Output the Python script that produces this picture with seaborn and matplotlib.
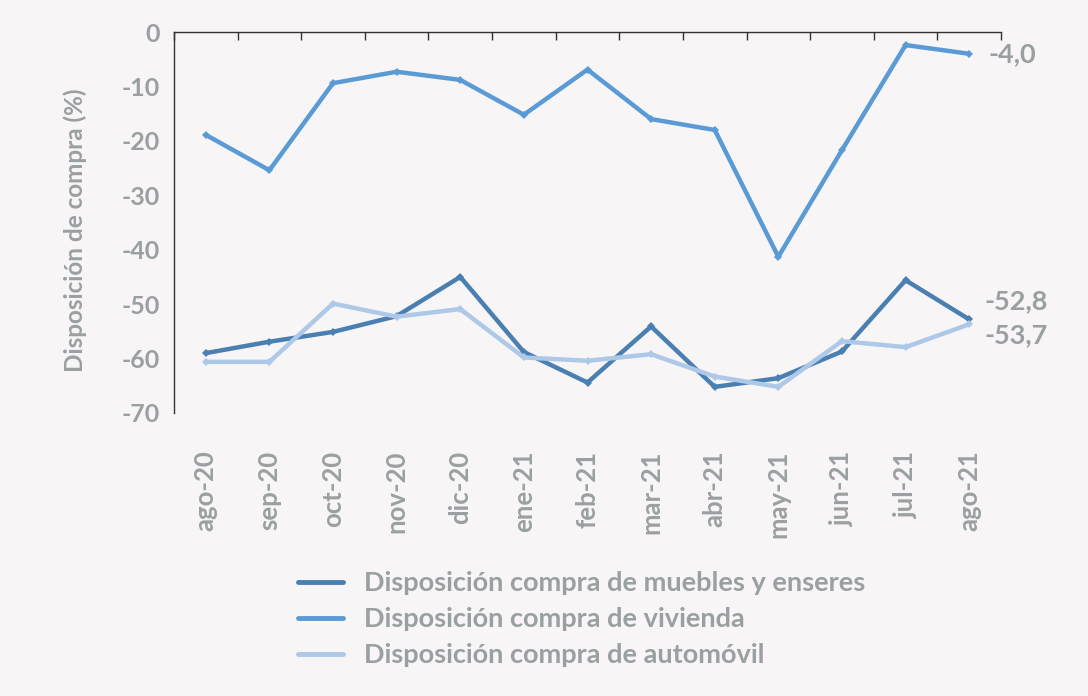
import matplotlib
matplotlib.use("Agg")
import matplotlib.pyplot as plt
import seaborn as sns
import pandas as pd
import numpy as np

months = ["ago-20", "sep-20", "oct-20", "nov-20", "dic-20", "ene-21", "feb-21",
          "mar-21", "abr-21", "may-21", "jun-21", "jul-21", "ago-21"]
muebles = [-59.0, -56.9, -55.1, -52.2, -45.0, -58.8, -64.4, -54.1, -65.2, -63.6, -58.7, -45.6, -52.8]
vivienda = [-18.9, -25.4, -9.4, -7.3, -8.8, -15.2, -6.9, -16.0, -18.0, -41.3, -21.7, -2.4, -4.0]
automovil = [-60.6, -60.6, -49.9, -52.3, -50.9, -59.8, -60.4, -59.2, -63.3, -65.2, -56.8, -57.9, -53.7]
series_names = ["Disposición compra de muebles y enseres",
                "Disposición compra de vivienda",
                "Disposición compra de automóvil"]
colors = ["#4a7fb1", "#5b9bd5", "#aec8e8"]
y_ticks = [0, -10, -20, -30, -40, -50, -60, -70]

df = pd.DataFrame({
    "mes": months * 3,
    "idx": list(range(len(months))) * 3,
    "valor": muebles + vivienda + automovil,
    "serie": [series_names[0]] * len(months) + [series_names[1]] * len(months) + [series_names[2]] * len(months),
})

bg = "#f7f5f6"
gray = "#9a9fa1"
sns.set_theme(style="white")
plt.rcParams["font.family"] = ["Lato", "DejaVu Sans"]
plt.rcParams["font.weight"] = "bold"

fig = plt.figure(figsize=(10.88, 6.96), dpi=100, facecolor=bg)
ax = fig.add_axes([174 / 1088, 1 - 413 / 696, (1001 - 174) / 1088, (413 - 32) / 696])
ax.set_facecolor(bg)

sns.lineplot(data=df, x="idx", y="valor", hue="serie", palette=colors,
             hue_order=series_names, linewidth=3.2, marker="D", markersize=4.5,
             markeredgewidth=0, ax=ax, legend=True, sort=False)

ax.set_xlim(-0.5, len(months) - 0.5)
ax.set_ylim(-70, 0)
ax.set_yticks(y_ticks)
ax.set_yticklabels([str(v) for v in y_ticks], color=gray, fontsize=18, fontweight="bold")
ax.tick_params(axis="y", length=0, pad=10)

ax.set_xticks(range(len(months)))
ax.set_xticklabels(months, rotation=90, color=gray, fontsize=18.5, fontweight="bold", va="top")
ax.tick_params(axis="x", which="major", bottom=False, top=False, length=0, pad=27)
ax.set_xticks(np.arange(-0.5, len(months), 1.0), minor=True)
ax.tick_params(axis="x", which="minor", top=True, bottom=False, direction="in", length=6,
               width=1, color="#333333")

for s in ["right", "bottom"]:
    ax.spines[s].set_visible(False)
for s in ["left", "top"]:
    ax.spines[s].set_color("#333333")
    ax.spines[s].set_linewidth(1)

ax.set_xlabel("")
ax.set_ylabel("Disposición de compra (%)", color=gray, fontsize=17.5, fontweight="bold", labelpad=8)
ax.yaxis.set_label_coords(-(174 - 87) / 827, 0.48)

def fmt(v):
    return f"{v:.1f}".replace(".", ",")

last = len(months) - 1
ax.annotate(fmt(vivienda[-1]), (last, vivienda[-1]), xytext=(14, 0), textcoords="offset points",
            ha="left", va="center", color=gray, fontsize=19.5, fontweight="bold")
ax.annotate(fmt(muebles[-1]), (last, muebles[-1]), xytext=(11, 13), textcoords="offset points",
            ha="left", va="center", color=gray, fontsize=19.5, fontweight="bold")
ax.annotate(fmt(automovil[-1]), (last, automovil[-1]), xytext=(11, -8), textcoords="offset points",
            ha="left", va="center", color=gray, fontsize=19.5, fontweight="bold")

handles, labels = ax.get_legend_handles_labels()
ax.get_legend().remove()
for h in handles:
    h.set_marker("")
    h.set_linewidth(3.5)
leg = fig.legend(handles, labels, loc="upper left", bbox_to_anchor=(298 / 1088, 1 - 571 / 696),
                 frameon=False, fontsize=19.5, handlelength=1.65, handletextpad=0.8,
                 labelspacing=0.45, borderpad=0, borderaxespad=0)
for t in leg.get_texts():
    t.set_color(gray)
    t.set_fontweight("bold")

fig.savefig("out.png", dpi=100, facecolor=bg)
